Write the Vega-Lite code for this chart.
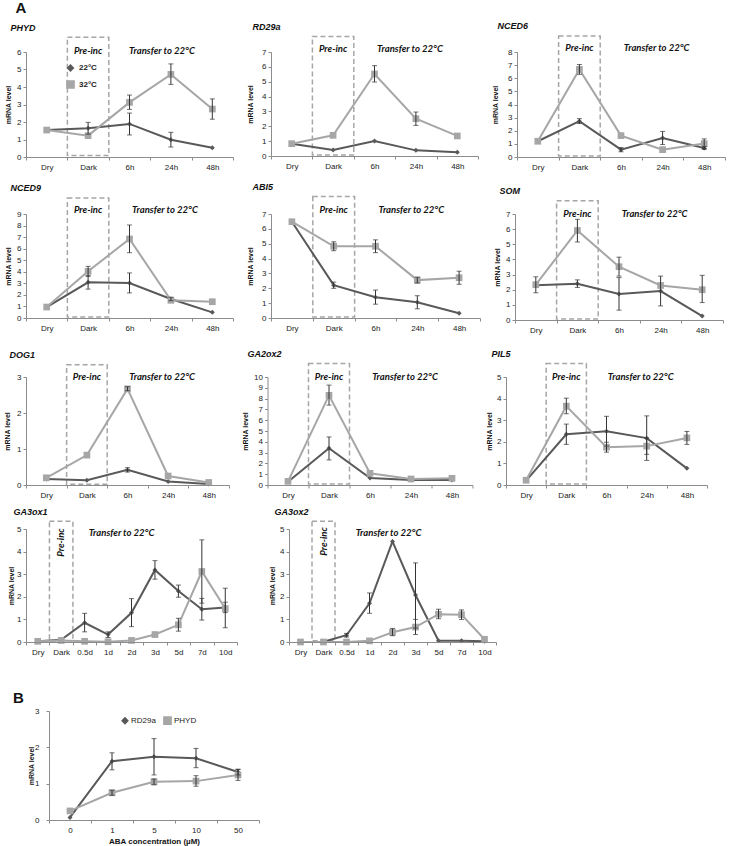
{
  "$schema": "https://vega.github.io/schema/vega-lite/v6.json",
  "padding": {"left": 3, "top": 1, "right": 2, "bottom": 2},
  "background": "white",
  "title": {"text": "A", "fontSize": 15, "fontStyle": "normal", "fontWeight": "bold", "dx": 12, "offset": 6, "font": "Liberation Sans"},
  "resolve": {"scale": {"color": "independent", "shape": "independent", "size": "independent"}},
  "datasets": {
    "ts": [
      {"g":"PHYD","t":"Dry","s":"22°C","v":1.54},
      {"g":"PHYD","t":"Dark","s":"22°C","v":1.64,"lo":1.30,"hi":1.98},
      {"g":"PHYD","t":"6h","s":"22°C","v":1.89,"lo":1.26,"hi":2.51},
      {"g":"PHYD","t":"24h","s":"22°C","v":0.99,"lo":0.57,"hi":1.41},
      {"g":"PHYD","t":"48h","s":"22°C","v":0.53},
      {"g":"PHYD","t":"Dry","s":"32°C","v":1.54},
      {"g":"PHYD","t":"Dark","s":"32°C","v":1.22},
      {"g":"PHYD","t":"6h","s":"32°C","v":3.12,"lo":2.72,"hi":3.54},
      {"g":"PHYD","t":"24h","s":"32°C","v":4.72,"lo":4.15,"hi":5.32},
      {"g":"PHYD","t":"48h","s":"32°C","v":2.74,"lo":2.16,"hi":3.32},
      {"g":"RD29a","t":"Dry","s":"22°C","v":0.83},
      {"g":"RD29a","t":"Dark","s":"22°C","v":0.40},
      {"g":"RD29a","t":"6h","s":"22°C","v":1.01},
      {"g":"RD29a","t":"24h","s":"22°C","v":0.38},
      {"g":"RD29a","t":"48h","s":"22°C","v":0.25},
      {"g":"RD29a","t":"Dry","s":"32°C","v":0.83},
      {"g":"RD29a","t":"Dark","s":"32°C","v":1.39},
      {"g":"RD29a","t":"6h","s":"32°C","v":5.52,"lo":4.98,"hi":6.08},
      {"g":"RD29a","t":"24h","s":"32°C","v":2.51,"lo":2.06,"hi":2.96},
      {"g":"RD29a","t":"48h","s":"32°C","v":1.35},
      {"g":"NCED6","t":"Dry","s":"22°C","v":1.2},
      {"g":"NCED6","t":"Dark","s":"22°C","v":2.73,"lo":2.55,"hi":2.92},
      {"g":"NCED6","t":"6h","s":"22°C","v":0.56,"lo":0.40,"hi":0.72},
      {"g":"NCED6","t":"24h","s":"22°C","v":1.45,"lo":0.95,"hi":1.95},
      {"g":"NCED6","t":"48h","s":"22°C","v":0.69,"lo":0.58,"hi":0.80},
      {"g":"NCED6","t":"Dry","s":"32°C","v":1.2},
      {"g":"NCED6","t":"Dark","s":"32°C","v":6.67,"lo":6.30,"hi":7.05},
      {"g":"NCED6","t":"6h","s":"32°C","v":1.63},
      {"g":"NCED6","t":"24h","s":"32°C","v":0.56},
      {"g":"NCED6","t":"48h","s":"32°C","v":1.02,"lo":0.65,"hi":1.38},
      {"g":"NCED9","t":"Dry","s":"22°C","v":0.95},
      {"g":"NCED9","t":"Dark","s":"22°C","v":3.09,"lo":2.50,"hi":3.67},
      {"g":"NCED9","t":"6h","s":"22°C","v":3.03,"lo":2.17,"hi":3.90},
      {"g":"NCED9","t":"24h","s":"22°C","v":1.64,"lo":1.50,"hi":1.80},
      {"g":"NCED9","t":"48h","s":"22°C","v":0.49},
      {"g":"NCED9","t":"Dry","s":"32°C","v":0.95},
      {"g":"NCED9","t":"Dark","s":"32°C","v":4.04,"lo":3.60,"hi":4.47},
      {"g":"NCED9","t":"6h","s":"32°C","v":6.84,"lo":5.65,"hi":8.05},
      {"g":"NCED9","t":"24h","s":"32°C","v":1.53},
      {"g":"NCED9","t":"48h","s":"32°C","v":1.41},
      {"g":"ABI5","t":"Dry","s":"22°C","v":6.48},
      {"g":"ABI5","t":"Dark","s":"22°C","v":2.21,"lo":2.00,"hi":2.42},
      {"g":"ABI5","t":"6h","s":"22°C","v":1.40,"lo":0.93,"hi":1.88},
      {"g":"ABI5","t":"24h","s":"22°C","v":1.06,"lo":0.62,"hi":1.50},
      {"g":"ABI5","t":"48h","s":"22°C","v":0.32},
      {"g":"ABI5","t":"Dry","s":"32°C","v":6.48},
      {"g":"ABI5","t":"Dark","s":"32°C","v":4.83,"lo":4.53,"hi":5.13},
      {"g":"ABI5","t":"6h","s":"32°C","v":4.83,"lo":4.40,"hi":5.26},
      {"g":"ABI5","t":"24h","s":"32°C","v":2.55,"lo":2.35,"hi":2.75},
      {"g":"ABI5","t":"48h","s":"32°C","v":2.71,"lo":2.27,"hi":3.15},
      {"g":"SOM","t":"Dry","s":"22°C","v":2.30,"lo":1.80,"hi":2.85},
      {"g":"SOM","t":"Dark","s":"22°C","v":2.39,"lo":2.15,"hi":2.65},
      {"g":"SOM","t":"6h","s":"22°C","v":1.72,"lo":0.65,"hi":2.80},
      {"g":"SOM","t":"24h","s":"22°C","v":1.91,"lo":0.93,"hi":2.90},
      {"g":"SOM","t":"48h","s":"22°C","v":0.26},
      {"g":"SOM","t":"Dry","s":"32°C","v":2.33},
      {"g":"SOM","t":"Dark","s":"32°C","v":5.91,"lo":5.15,"hi":6.65},
      {"g":"SOM","t":"6h","s":"32°C","v":3.52,"lo":2.90,"hi":4.15},
      {"g":"SOM","t":"24h","s":"32°C","v":2.28},
      {"g":"SOM","t":"48h","s":"32°C","v":2.00,"lo":1.15,"hi":2.95},
      {"g":"DOG1","t":"Dry","s":"22°C","v":0.17},
      {"g":"DOG1","t":"Dark","s":"22°C","v":0.13},
      {"g":"DOG1","t":"6h","s":"22°C","v":0.42,"lo":0.36,"hi":0.48},
      {"g":"DOG1","t":"24h","s":"22°C","v":0.10},
      {"g":"DOG1","t":"48h","s":"22°C","v":0.03},
      {"g":"DOG1","t":"Dry","s":"32°C","v":0.20},
      {"g":"DOG1","t":"Dark","s":"32°C","v":0.83},
      {"g":"DOG1","t":"6h","s":"32°C","v":2.67,"lo":2.62,"hi":2.73},
      {"g":"DOG1","t":"24h","s":"32°C","v":0.25},
      {"g":"DOG1","t":"48h","s":"32°C","v":0.07},
      {"g":"GA2ox2","t":"Dry","s":"22°C","v":0.31},
      {"g":"GA2ox2","t":"Dark","s":"22°C","v":3.40,"lo":2.32,"hi":4.45},
      {"g":"GA2ox2","t":"6h","s":"22°C","v":0.65},
      {"g":"GA2ox2","t":"24h","s":"22°C","v":0.46},
      {"g":"GA2ox2","t":"48h","s":"22°C","v":0.46},
      {"g":"GA2ox2","t":"Dry","s":"32°C","v":0.34},
      {"g":"GA2ox2","t":"Dark","s":"32°C","v":8.30,"lo":7.40,"hi":9.25},
      {"g":"GA2ox2","t":"6h","s":"32°C","v":1.08},
      {"g":"GA2ox2","t":"24h","s":"32°C","v":0.56},
      {"g":"GA2ox2","t":"48h","s":"32°C","v":0.62},
      {"g":"PIL5","t":"Dry","s":"22°C","v":0.20},
      {"g":"PIL5","t":"Dark","s":"22°C","v":2.35,"lo":1.88,"hi":2.82},
      {"g":"PIL5","t":"6h","s":"22°C","v":2.49,"lo":1.80,"hi":3.18},
      {"g":"PIL5","t":"24h","s":"22°C","v":2.17,"lo":1.14,"hi":3.20},
      {"g":"PIL5","t":"48h","s":"22°C","v":0.77},
      {"g":"PIL5","t":"Dry","s":"32°C","v":0.22},
      {"g":"PIL5","t":"Dark","s":"32°C","v":3.65,"lo":3.30,"hi":4.02},
      {"g":"PIL5","t":"6h","s":"32°C","v":1.75,"lo":1.52,"hi":1.98},
      {"g":"PIL5","t":"24h","s":"32°C","v":1.80,"lo":1.42,"hi":2.18},
      {"g":"PIL5","t":"48h","s":"32°C","v":2.18,"lo":1.88,"hi":2.48},
      {"g":"GA3ox1","t":"Dry","s":"22°C","v":0.03},
      {"g":"GA3ox1","t":"Dark","s":"22°C","v":0.10},
      {"g":"GA3ox1","t":"0.5d","s":"22°C","v":0.85,"lo":0.45,"hi":1.27},
      {"g":"GA3ox1","t":"1d","s":"22°C","v":0.33,"lo":0.20,"hi":0.45},
      {"g":"GA3ox1","t":"2d","s":"22°C","v":1.29,"lo":0.68,"hi":1.92},
      {"g":"GA3ox1","t":"3d","s":"22°C","v":3.19,"lo":2.78,"hi":3.60},
      {"g":"GA3ox1","t":"5d","s":"22°C","v":2.26,"lo":1.98,"hi":2.52},
      {"g":"GA3ox1","t":"7d","s":"22°C","v":1.45,"lo":0.97,"hi":1.93},
      {"g":"GA3ox1","t":"10d","s":"22°C","v":1.53,"lo":1.30,"hi":1.76},
      {"g":"GA3ox1","t":"Dry","s":"32°C","v":0.03},
      {"g":"GA3ox1","t":"Dark","s":"32°C","v":0.07},
      {"g":"GA3ox1","t":"0.5d","s":"32°C","v":0.03},
      {"g":"GA3ox1","t":"1d","s":"32°C","v":0.01},
      {"g":"GA3ox1","t":"2d","s":"32°C","v":0.07},
      {"g":"GA3ox1","t":"3d","s":"32°C","v":0.33},
      {"g":"GA3ox1","t":"5d","s":"32°C","v":0.76,"lo":0.48,"hi":1.05},
      {"g":"GA3ox1","t":"7d","s":"32°C","v":3.12,"lo":1.72,"hi":4.52},
      {"g":"GA3ox1","t":"10d","s":"32°C","v":1.48,"lo":0.63,"hi":2.38},
      {"g":"GA3ox2","t":"Dark","s":"22°C","v":0.01},
      {"g":"GA3ox2","t":"0.5d","s":"22°C","v":0.30,"lo":0.22,"hi":0.38},
      {"g":"GA3ox2","t":"1d","s":"22°C","v":1.71,"lo":1.27,"hi":2.17},
      {"g":"GA3ox2","t":"2d","s":"22°C","v":4.45},
      {"g":"GA3ox2","t":"3d","s":"22°C","v":2.08,"lo":0.62,"hi":3.50},
      {"g":"GA3ox2","t":"5d","s":"22°C","v":0.06},
      {"g":"GA3ox2","t":"7d","s":"22°C","v":0.06},
      {"g":"GA3ox2","t":"10d","s":"22°C","v":0.03},
      {"g":"GA3ox2","t":"Dry","s":"32°C","v":0.0},
      {"g":"GA3ox2","t":"Dark","s":"32°C","v":0.0},
      {"g":"GA3ox2","t":"0.5d","s":"32°C","v":0.0},
      {"g":"GA3ox2","t":"1d","s":"32°C","v":0.05},
      {"g":"GA3ox2","t":"2d","s":"32°C","v":0.43,"lo":0.28,"hi":0.60},
      {"g":"GA3ox2","t":"3d","s":"32°C","v":0.66,"lo":0.33,"hi":1.00},
      {"g":"GA3ox2","t":"5d","s":"32°C","v":1.23,"lo":1.03,"hi":1.45},
      {"g":"GA3ox2","t":"7d","s":"32°C","v":1.21,"lo":1.00,"hi":1.42},
      {"g":"GA3ox2","t":"10d","s":"32°C","v":0.12}
    ],
    "boxes": [
      {"g":"PHYD","t":"Dark","lo":0.08,"hi":6.84},
      {"g":"RD29a","t":"Dark","lo":0.06,"hi":8.05},
      {"g":"NCED6","t":"Dark","lo":0.08,"hi":9.22},
      {"g":"NCED9","t":"Dark","lo":0.08,"hi":10.38},
      {"g":"ABI5","t":"Dark","lo":0.06,"hi":8.17},
      {"g":"SOM","t":"Dark","lo":0.06,"hi":7.87},
      {"g":"DOG1","t":"Dark","lo":0.02,"hi":3.34},
      {"g":"GA2ox2","t":"Dark","lo":0.1,"hi":11.24},
      {"g":"PIL5","t":"Dark","lo":0.05,"hi":5.62},
      {"g":"GA3ox1","t":"Dark","lo":0.05,"hi":5.34},
      {"g":"GA3ox2","t":"Dark","lo":0.05,"hi":5.34}
    ],
    "notes": [
      {"g":"PHYD","label":"Pre-inc","t":"Dark","v":6.04},
      {"g":"PHYD","label":"Transfer to 22°C","t":"24h","v":6.04},
      {"g":"RD29a","label":"Pre-inc","t":"Dark","v":7.2},
      {"g":"RD29a","label":"Transfer to 22°C","t":"24h","v":7.2},
      {"g":"NCED6","label":"Pre-inc","t":"Dark","v":8.3},
      {"g":"NCED6","label":"Transfer to 22°C","t":"24h","v":8.3},
      {"g":"NCED9","label":"Pre-inc","t":"Dark","v":9.35},
      {"g":"NCED9","label":"Transfer to 22°C","t":"24h","v":9.35},
      {"g":"ABI5","label":"Pre-inc","t":"Dark","v":7.25},
      {"g":"ABI5","label":"Transfer to 22°C","t":"24h","v":7.25},
      {"g":"SOM","label":"Pre-inc","t":"Dark","v":7.0},
      {"g":"SOM","label":"Transfer to 22°C","t":"24h","v":7.0},
      {"g":"DOG1","label":"Pre-inc","t":"Dark","v":3.0},
      {"g":"DOG1","label":"Transfer to 22°C","t":"24h","v":3.0},
      {"g":"GA2ox2","label":"Pre-inc","t":"Dark","v":10.0},
      {"g":"GA2ox2","label":"Transfer to 22°C","t":"24h","v":10.0},
      {"g":"PIL5","label":"Pre-inc","t":"Dark","v":5.0},
      {"g":"PIL5","label":"Transfer to 22°C","t":"24h","v":5.0},
      {"g":"GA3ox1","label":"Pre-inc","t":"Dark","v":4.4},
      {"g":"GA3ox1","label":"Transfer to 22°C","t":"2d","v":4.82},
      {"g":"GA3ox2","label":"Pre-inc","t":"Dark","v":4.45},
      {"g":"GA3ox2","label":"Transfer to 22°C","t":"2d","v":4.82}
    ],
    "aba": [
      {"c":"0","s":"RD29a","v":0.07},
      {"c":"1","s":"RD29a","v":1.62,"lo":1.38,"hi":1.85},
      {"c":"5","s":"RD29a","v":1.74,"lo":1.24,"hi":2.24},
      {"c":"10","s":"RD29a","v":1.70,"lo":1.44,"hi":1.97},
      {"c":"50","s":"RD29a","v":1.32,"lo":1.24,"hi":1.40},
      {"c":"0","s":"PHYD","v":0.25},
      {"c":"1","s":"PHYD","v":0.75,"lo":0.68,"hi":0.82},
      {"c":"5","s":"PHYD","v":1.05,"lo":0.97,"hi":1.13},
      {"c":"10","s":"PHYD","v":1.07,"lo":0.93,"hi":1.22},
      {"c":"50","s":"PHYD","v":1.24,"lo":1.09,"hi":1.39}
    ]
  },
  "config": {
    "view": {"stroke": null},
    "axis": {"labelFont": "Liberation Sans", "labelFontSize": 8, "labelColor": "#222", "domainColor": "#8c8c8c", "tickColor": "#8c8c8c", "tickSize": 3, "grid": false, "titleFont": "Liberation Sans", "titleFontSize": 7, "titleFontWeight": "bold", "titleColor": "#111"},
    "axisX": {"labelAngle": 0, "tickBand": "extent", "labelPadding": 3},
    "axisY": {"labelPadding": 2},
    "title": {"anchor": "start", "frame": "bounds", "font": "Liberation Sans", "fontSize": 9, "fontStyle": "italic", "fontWeight": "bold", "color": "#111", "offset": 0, "dx": 6}
  },
  "columns": 1,
  "align": "none",
  "spacing": 15,
  "concat": [
    {
      "columns": 1, "align": "none", "spacing": 11,
      "resolve": {"scale": {"color": "independent", "shape": "independent", "size": "independent"}},
      "concat": [
        {
          "spacing": 12,
          "resolve": {"scale": {"color": "independent", "shape": "independent", "size": "independent"}},
          "hconcat": [
            {
              "width": 207, "height": 105,
              "title": {"text": "PHYD"},
              "encoding": {
                "x": {"field": "t", "type": "ordinal", "title": null, "scale": {"type": "band", "domain": ["Dry","Dark","6h","24h","48h"], "paddingInner": 0, "paddingOuter": 0}},
                "y": {"field": "v", "type": "quantitative", "title": "mRNA level", "scale": {"domain": [0, 6], "nice": false}, "axis": {"values": [0,1,2,3,4,5,6], "titlePadding": 5}}
              },
              "layer": [
                {"data": {"name": "boxes"}, "transform": [{"filter": "datum.g == 'PHYD'"}], "mark": {"type": "rect", "fillOpacity": 0, "stroke": "#a6a6a6", "strokeWidth": 1.5, "strokeDash": [5, 3]}, "encoding": {"y": {"field": "lo", "type": "quantitative", "title": "mRNA level"}, "y2": {"field": "hi"}}},
                {"data": {"name": "notes"}, "transform": [{"filter": "datum.g == 'PHYD' && datum.label == 'Pre-inc'"}], "mark": {"type": "text", "font": "Lato", "fontStyle": "italic", "fontWeight": "bold", "fontSize": 9.5, "color": "#111"}, "encoding": {"text": {"field": "label"}}},
                {"data": {"name": "notes"}, "transform": [{"filter": "datum.g == 'PHYD' && datum.label != 'Pre-inc'"}], "mark": {"type": "text", "font": "Lato", "fontStyle": "italic", "fontWeight": "bold", "fontSize": 9.5, "color": "#111", "dx": -9}, "encoding": {"text": {"field": "label"}}},
                {"data": {"name": "ts"}, "transform": [{"filter": "datum.g == 'PHYD'"}], "mark": {"type": "line", "strokeWidth": 2}, "encoding": {"order": {"value": null}, "color": {"field": "s", "type": "nominal", "scale": {"domain": ["22°C","32°C"], "range": ["#595959","#a6a6a6"]}, "legend": {"orient": "none", "legendX": 40, "legendY": 12, "title": null, "labelFont": "Liberation Sans", "labelFontSize": 8, "labelFontWeight": "bold", "labelColor": "#222", "symbolSize": 180, "symbolStrokeWidth": 2, "rowPadding": 2, "encode": {"symbols": {"update": {"shape": {"signal": "datum.value == '22°C' ? 'M-1,0L1,0M0,-0.3L0.3,0L0,0.3L-0.3,0Z' : 'M-1,0L1,0M-0.35,-0.35L0.35,-0.35L0.35,0.35L-0.35,0.35Z'"}, "fill": {"signal": "datum.value == '22°C' ? '#595959' : '#a6a6a6'"}, "stroke": {"signal": "datum.value == '22°C' ? '#595959' : '#a6a6a6'"}, "strokeWidth": {"value": 2}, "strokeOpacity": {"value": 1}, "opacity": {"value": 1}}}}}}}},
                {"data": {"name": "ts"}, "transform": [{"filter": "datum.g == 'PHYD'"}], "mark": {"type": "point", "filled": true, "opacity": 1}, "encoding": {"color": {"field": "s", "type": "nominal", "legend": null}, "shape": {"field": "s", "type": "nominal", "scale": {"domain": ["22°C","32°C"], "range": ["diamond","square"]}, "legend": null}, "size": {"field": "s", "type": "ordinal", "scale": {"domain": ["22°C","32°C"], "range": [25, 45]}, "legend": null}}},
                {"data": {"name": "ts"}, "transform": [{"filter": "datum.g == 'PHYD' && isValid(datum.lo)"}], "mark": {"type": "errorbar", "ticks": {"size": 5, "thickness": 1, "color": "#333"}, "rule": {"color": "#333", "strokeWidth": 1}}, "encoding": {"y": {"field": "lo", "type": "quantitative", "title": "mRNA level"}, "y2": {"field": "hi"}}}
              ]
            },
            {
              "width": 207, "height": 104,
              "title": {"text": "RD29a"},
              "encoding": {
                "x": {"field": "t", "type": "ordinal", "title": null, "scale": {"type": "band", "domain": ["Dry","Dark","6h","24h","48h"], "paddingInner": 0, "paddingOuter": 0}},
                "y": {"field": "v", "type": "quantitative", "title": "mRNA level", "scale": {"domain": [0, 7], "nice": false}, "axis": {"values": [0,1,2,3,4,5,6,7], "titlePadding": 8}}
              },
              "layer": [
                {"data": {"name": "boxes"}, "transform": [{"filter": "datum.g == 'RD29a'"}], "mark": {"type": "rect", "fillOpacity": 0, "stroke": "#a6a6a6", "strokeWidth": 1.5, "strokeDash": [5, 3]}, "encoding": {"y": {"field": "lo", "type": "quantitative", "title": "mRNA level"}, "y2": {"field": "hi"}}},
                {"data": {"name": "notes"}, "transform": [{"filter": "datum.g == 'RD29a' && datum.label == 'Pre-inc'"}], "mark": {"type": "text", "font": "Lato", "fontStyle": "italic", "fontWeight": "bold", "fontSize": 9.5, "color": "#111"}, "encoding": {"text": {"field": "label"}}},
                {"data": {"name": "notes"}, "transform": [{"filter": "datum.g == 'RD29a' && datum.label != 'Pre-inc'"}], "mark": {"type": "text", "font": "Lato", "fontStyle": "italic", "fontWeight": "bold", "fontSize": 9.5, "color": "#111", "dx": -6}, "encoding": {"text": {"field": "label"}}},
                {"data": {"name": "ts"}, "transform": [{"filter": "datum.g == 'RD29a'"}], "mark": {"type": "line", "strokeWidth": 2}, "encoding": {"order": {"value": null}, "color": {"field": "s", "type": "nominal", "scale": {"domain": ["22°C","32°C"], "range": ["#595959","#a6a6a6"]}, "legend": null}}},
                {"data": {"name": "ts"}, "transform": [{"filter": "datum.g == 'RD29a'"}], "mark": {"type": "point", "filled": true, "opacity": 1}, "encoding": {"color": {"field": "s", "type": "nominal", "legend": null}, "shape": {"field": "s", "type": "nominal", "scale": {"domain": ["22°C","32°C"], "range": ["diamond","square"]}, "legend": null}, "size": {"field": "s", "type": "ordinal", "scale": {"domain": ["22°C","32°C"], "range": [25, 45]}, "legend": null}}},
                {"data": {"name": "ts"}, "transform": [{"filter": "datum.g == 'RD29a' && isValid(datum.lo)"}], "mark": {"type": "errorbar", "ticks": {"size": 5, "thickness": 1, "color": "#333"}, "rule": {"color": "#333", "strokeWidth": 1}}, "encoding": {"y": {"field": "lo", "type": "quantitative", "title": "mRNA level"}, "y2": {"field": "hi"}}}
              ]
            },
            {
              "width": 208, "height": 105,
              "title": {"text": "NCED6"},
              "encoding": {
                "x": {"field": "t", "type": "ordinal", "title": null, "scale": {"type": "band", "domain": ["Dry","Dark","6h","24h","48h"], "paddingInner": 0, "paddingOuter": 0}},
                "y": {"field": "v", "type": "quantitative", "title": "mRNA level", "scale": {"domain": [0, 8], "nice": false}, "axis": {"values": [0,1,2,3,4,5,6,7,8], "titlePadding": 9}}
              },
              "layer": [
                {"data": {"name": "boxes"}, "transform": [{"filter": "datum.g == 'NCED6'"}], "mark": {"type": "rect", "fillOpacity": 0, "stroke": "#a6a6a6", "strokeWidth": 1.5, "strokeDash": [5, 3]}, "encoding": {"y": {"field": "lo", "type": "quantitative", "title": "mRNA level"}, "y2": {"field": "hi"}}},
                {"data": {"name": "notes"}, "transform": [{"filter": "datum.g == 'NCED6' && datum.label == 'Pre-inc'"}], "mark": {"type": "text", "font": "Lato", "fontStyle": "italic", "fontWeight": "bold", "fontSize": 9.5, "color": "#111"}, "encoding": {"text": {"field": "label"}}},
                {"data": {"name": "notes"}, "transform": [{"filter": "datum.g == 'NCED6' && datum.label != 'Pre-inc'"}], "mark": {"type": "text", "font": "Lato", "fontStyle": "italic", "fontWeight": "bold", "fontSize": 9.5, "color": "#111", "dx": -6}, "encoding": {"text": {"field": "label"}}},
                {"data": {"name": "ts"}, "transform": [{"filter": "datum.g == 'NCED6'"}], "mark": {"type": "line", "strokeWidth": 2}, "encoding": {"order": {"value": null}, "color": {"field": "s", "type": "nominal", "scale": {"domain": ["22°C","32°C"], "range": ["#595959","#a6a6a6"]}, "legend": null}}},
                {"data": {"name": "ts"}, "transform": [{"filter": "datum.g == 'NCED6'"}], "mark": {"type": "point", "filled": true, "opacity": 1}, "encoding": {"color": {"field": "s", "type": "nominal", "legend": null}, "shape": {"field": "s", "type": "nominal", "scale": {"domain": ["22°C","32°C"], "range": ["diamond","square"]}, "legend": null}, "size": {"field": "s", "type": "ordinal", "scale": {"domain": ["22°C","32°C"], "range": [25, 45]}, "legend": null}}},
                {"data": {"name": "ts"}, "transform": [{"filter": "datum.g == 'NCED6' && isValid(datum.lo)"}], "mark": {"type": "errorbar", "ticks": {"size": 5, "thickness": 1, "color": "#333"}, "rule": {"color": "#333", "strokeWidth": 1}}, "encoding": {"y": {"field": "lo", "type": "quantitative", "title": "mRNA level"}, "y2": {"field": "hi"}}}
              ]
            }
          ]
        },
        {
          "spacing": 12,
          "resolve": {"scale": {"color": "independent", "shape": "independent", "size": "independent"}},
          "hconcat": [
            {
              "width": 207, "height": 104,
              "title": {"text": "NCED9"},
              "encoding": {
                "x": {"field": "t", "type": "ordinal", "title": null, "scale": {"type": "band", "domain": ["Dry","Dark","6h","24h","48h"], "paddingInner": 0, "paddingOuter": 0}},
                "y": {"field": "v", "type": "quantitative", "title": "mRNA level", "scale": {"domain": [0, 9], "nice": false}, "axis": {"values": [0,1,2,3,4,5,6,7,8,9], "titlePadding": 5}}
              },
              "layer": [
                {"data": {"name": "boxes"}, "transform": [{"filter": "datum.g == 'NCED9'"}], "mark": {"type": "rect", "fillOpacity": 0, "stroke": "#a6a6a6", "strokeWidth": 1.5, "strokeDash": [5, 3]}, "encoding": {"y": {"field": "lo", "type": "quantitative", "title": "mRNA level"}, "y2": {"field": "hi"}}},
                {"data": {"name": "notes"}, "transform": [{"filter": "datum.g == 'NCED9' && datum.label == 'Pre-inc'"}], "mark": {"type": "text", "font": "Lato", "fontStyle": "italic", "fontWeight": "bold", "fontSize": 9.5, "color": "#111"}, "encoding": {"text": {"field": "label"}}},
                {"data": {"name": "notes"}, "transform": [{"filter": "datum.g == 'NCED9' && datum.label != 'Pre-inc'"}], "mark": {"type": "text", "font": "Lato", "fontStyle": "italic", "fontWeight": "bold", "fontSize": 9.5, "color": "#111", "dx": -6}, "encoding": {"text": {"field": "label"}}},
                {"data": {"name": "ts"}, "transform": [{"filter": "datum.g == 'NCED9'"}], "mark": {"type": "line", "strokeWidth": 2}, "encoding": {"order": {"value": null}, "color": {"field": "s", "type": "nominal", "scale": {"domain": ["22°C","32°C"], "range": ["#595959","#a6a6a6"]}, "legend": null}}},
                {"data": {"name": "ts"}, "transform": [{"filter": "datum.g == 'NCED9'"}], "mark": {"type": "point", "filled": true, "opacity": 1}, "encoding": {"color": {"field": "s", "type": "nominal", "legend": null}, "shape": {"field": "s", "type": "nominal", "scale": {"domain": ["22°C","32°C"], "range": ["diamond","square"]}, "legend": null}, "size": {"field": "s", "type": "ordinal", "scale": {"domain": ["22°C","32°C"], "range": [25, 45]}, "legend": null}}},
                {"data": {"name": "ts"}, "transform": [{"filter": "datum.g == 'NCED9' && isValid(datum.lo)"}], "mark": {"type": "errorbar", "ticks": {"size": 5, "thickness": 1, "color": "#333"}, "rule": {"color": "#333", "strokeWidth": 1}}, "encoding": {"y": {"field": "lo", "type": "quantitative", "title": "mRNA level"}, "y2": {"field": "hi"}}}
              ]
            },
            {
              "width": 209, "height": 104,
              "title": {"text": "ABI5"},
              "encoding": {
                "x": {"field": "t", "type": "ordinal", "title": null, "scale": {"type": "band", "domain": ["Dry","Dark","6h","24h","48h"], "paddingInner": 0, "paddingOuter": 0}},
                "y": {"field": "v", "type": "quantitative", "title": "mRNA level", "scale": {"domain": [0, 7], "nice": false}, "axis": {"values": [0,1,2,3,4,5,6,7], "titlePadding": 8}}
              },
              "layer": [
                {"data": {"name": "boxes"}, "transform": [{"filter": "datum.g == 'ABI5'"}], "mark": {"type": "rect", "fillOpacity": 0, "stroke": "#a6a6a6", "strokeWidth": 1.5, "strokeDash": [5, 3]}, "encoding": {"y": {"field": "lo", "type": "quantitative", "title": "mRNA level"}, "y2": {"field": "hi"}}},
                {"data": {"name": "notes"}, "transform": [{"filter": "datum.g == 'ABI5' && datum.label == 'Pre-inc'"}], "mark": {"type": "text", "font": "Lato", "fontStyle": "italic", "fontWeight": "bold", "fontSize": 9.5, "color": "#111"}, "encoding": {"text": {"field": "label"}}},
                {"data": {"name": "notes"}, "transform": [{"filter": "datum.g == 'ABI5' && datum.label != 'Pre-inc'"}], "mark": {"type": "text", "font": "Lato", "fontStyle": "italic", "fontWeight": "bold", "fontSize": 9.5, "color": "#111", "dx": -6}, "encoding": {"text": {"field": "label"}}},
                {"data": {"name": "ts"}, "transform": [{"filter": "datum.g == 'ABI5'"}], "mark": {"type": "line", "strokeWidth": 2}, "encoding": {"order": {"value": null}, "color": {"field": "s", "type": "nominal", "scale": {"domain": ["22°C","32°C"], "range": ["#595959","#a6a6a6"]}, "legend": null}}},
                {"data": {"name": "ts"}, "transform": [{"filter": "datum.g == 'ABI5'"}], "mark": {"type": "point", "filled": true, "opacity": 1}, "encoding": {"color": {"field": "s", "type": "nominal", "legend": null}, "shape": {"field": "s", "type": "nominal", "scale": {"domain": ["22°C","32°C"], "range": ["diamond","square"]}, "legend": null}, "size": {"field": "s", "type": "ordinal", "scale": {"domain": ["22°C","32°C"], "range": [25, 45]}, "legend": null}}},
                {"data": {"name": "ts"}, "transform": [{"filter": "datum.g == 'ABI5' && isValid(datum.lo)"}], "mark": {"type": "errorbar", "ticks": {"size": 5, "thickness": 1, "color": "#333"}, "rule": {"color": "#333", "strokeWidth": 1}}, "encoding": {"y": {"field": "lo", "type": "quantitative", "title": "mRNA level"}, "y2": {"field": "hi"}}}
              ]
            },
            {
              "width": 208, "height": 106,
              "title": {"text": "SOM"},
              "encoding": {
                "x": {"field": "t", "type": "ordinal", "title": null, "scale": {"type": "band", "domain": ["Dry","Dark","6h","24h","48h"], "paddingInner": 0, "paddingOuter": 0}},
                "y": {"field": "v", "type": "quantitative", "title": "mRNA level", "scale": {"domain": [0, 7], "nice": false}, "axis": {"values": [0,1,2,3,4,5,6,7], "titlePadding": 5}}
              },
              "layer": [
                {"data": {"name": "boxes"}, "transform": [{"filter": "datum.g == 'SOM'"}], "mark": {"type": "rect", "fillOpacity": 0, "stroke": "#a6a6a6", "strokeWidth": 1.5, "strokeDash": [5, 3]}, "encoding": {"y": {"field": "lo", "type": "quantitative", "title": "mRNA level"}, "y2": {"field": "hi"}}},
                {"data": {"name": "notes"}, "transform": [{"filter": "datum.g == 'SOM' && datum.label == 'Pre-inc'"}], "mark": {"type": "text", "font": "Lato", "fontStyle": "italic", "fontWeight": "bold", "fontSize": 9.5, "color": "#111"}, "encoding": {"text": {"field": "label"}}},
                {"data": {"name": "notes"}, "transform": [{"filter": "datum.g == 'SOM' && datum.label != 'Pre-inc'"}], "mark": {"type": "text", "font": "Lato", "fontStyle": "italic", "fontWeight": "bold", "fontSize": 9.5, "color": "#111", "dx": -6}, "encoding": {"text": {"field": "label"}}},
                {"data": {"name": "ts"}, "transform": [{"filter": "datum.g == 'SOM'"}], "mark": {"type": "line", "strokeWidth": 2}, "encoding": {"order": {"value": null}, "color": {"field": "s", "type": "nominal", "scale": {"domain": ["22°C","32°C"], "range": ["#595959","#a6a6a6"]}, "legend": null}}},
                {"data": {"name": "ts"}, "transform": [{"filter": "datum.g == 'SOM'"}], "mark": {"type": "point", "filled": true, "opacity": 1}, "encoding": {"color": {"field": "s", "type": "nominal", "legend": null}, "shape": {"field": "s", "type": "nominal", "scale": {"domain": ["22°C","32°C"], "range": ["diamond","square"]}, "legend": null}, "size": {"field": "s", "type": "ordinal", "scale": {"domain": ["22°C","32°C"], "range": [25, 45]}, "legend": null}}},
                {"data": {"name": "ts"}, "transform": [{"filter": "datum.g == 'SOM' && isValid(datum.lo)"}], "mark": {"type": "errorbar", "ticks": {"size": 5, "thickness": 1, "color": "#333"}, "rule": {"color": "#333", "strokeWidth": 1}}, "encoding": {"y": {"field": "lo", "type": "quantitative", "title": "mRNA level"}, "y2": {"field": "hi"}}}
              ]
            }
          ]
        }
      ]
    },
    {
      "columns": 1, "align": "none", "spacing": 8,
      "resolve": {"scale": {"color": "independent", "shape": "independent", "size": "independent"}},
      "concat": [
        {
          "spacing": 11.5,
          "resolve": {"scale": {"color": "independent", "shape": "independent", "size": "independent"}},
          "hconcat": [
            {
              "width": 203, "height": 108,
              "title": {"text": "DOG1"},
              "encoding": {
                "x": {"field": "t", "type": "ordinal", "title": null, "scale": {"type": "band", "domain": ["Dry","Dark","6h","24h","48h"], "paddingInner": 0, "paddingOuter": 0}},
                "y": {"field": "v", "type": "quantitative", "title": "mRNA level", "scale": {"domain": [0, 3], "nice": false}, "axis": {"values": [0,1,2,3], "titlePadding": 6}}
              },
              "layer": [
                {"data": {"name": "boxes"}, "transform": [{"filter": "datum.g == 'DOG1'"}], "mark": {"type": "rect", "fillOpacity": 0, "stroke": "#a6a6a6", "strokeWidth": 1.5, "strokeDash": [5, 3]}, "encoding": {"y": {"field": "lo", "type": "quantitative", "title": "mRNA level"}, "y2": {"field": "hi"}}},
                {"data": {"name": "notes"}, "transform": [{"filter": "datum.g == 'DOG1' && datum.label == 'Pre-inc'"}], "mark": {"type": "text", "font": "Lato", "fontStyle": "italic", "fontWeight": "bold", "fontSize": 9.5, "color": "#111"}, "encoding": {"text": {"field": "label"}}},
                {"data": {"name": "notes"}, "transform": [{"filter": "datum.g == 'DOG1' && datum.label != 'Pre-inc'"}], "mark": {"type": "text", "font": "Lato", "fontStyle": "italic", "fontWeight": "bold", "fontSize": 9.5, "color": "#111", "dx": -6}, "encoding": {"text": {"field": "label"}}},
                {"data": {"name": "ts"}, "transform": [{"filter": "datum.g == 'DOG1'"}], "mark": {"type": "line", "strokeWidth": 2}, "encoding": {"order": {"value": null}, "color": {"field": "s", "type": "nominal", "scale": {"domain": ["22°C","32°C"], "range": ["#595959","#a6a6a6"]}, "legend": null}}},
                {"data": {"name": "ts"}, "transform": [{"filter": "datum.g == 'DOG1'"}], "mark": {"type": "point", "filled": true, "opacity": 1}, "encoding": {"color": {"field": "s", "type": "nominal", "legend": null}, "shape": {"field": "s", "type": "nominal", "scale": {"domain": ["22°C","32°C"], "range": ["diamond","square"]}, "legend": null}, "size": {"field": "s", "type": "ordinal", "scale": {"domain": ["22°C","32°C"], "range": [25, 45]}, "legend": null}}},
                {"data": {"name": "ts"}, "transform": [{"filter": "datum.g == 'DOG1' && isValid(datum.lo)"}], "mark": {"type": "errorbar", "ticks": {"size": 5, "thickness": 1, "color": "#333"}, "rule": {"color": "#333", "strokeWidth": 1}}, "encoding": {"y": {"field": "lo", "type": "quantitative", "title": "mRNA level"}, "y2": {"field": "hi"}}}
              ]
            },
            {
              "width": 205, "height": 108,
              "title": {"text": "GA2ox2"},
              "encoding": {
                "x": {"field": "t", "type": "ordinal", "title": null, "scale": {"type": "band", "domain": ["Dry","Dark","6h","24h","48h"], "paddingInner": 0, "paddingOuter": 0}},
                "y": {"field": "v", "type": "quantitative", "title": "mRNA level", "scale": {"domain": [0, 10], "nice": false}, "axis": {"values": [0,1,2,3,4,5,6,7,8,9,10], "titlePadding": 5}}
              },
              "layer": [
                {"data": {"name": "boxes"}, "transform": [{"filter": "datum.g == 'GA2ox2'"}], "mark": {"type": "rect", "fillOpacity": 0, "stroke": "#a6a6a6", "strokeWidth": 1.5, "strokeDash": [5, 3]}, "encoding": {"y": {"field": "lo", "type": "quantitative", "title": "mRNA level"}, "y2": {"field": "hi"}}},
                {"data": {"name": "notes"}, "transform": [{"filter": "datum.g == 'GA2ox2' && datum.label == 'Pre-inc'"}], "mark": {"type": "text", "font": "Lato", "fontStyle": "italic", "fontWeight": "bold", "fontSize": 9.5, "color": "#111"}, "encoding": {"text": {"field": "label"}}},
                {"data": {"name": "notes"}, "transform": [{"filter": "datum.g == 'GA2ox2' && datum.label != 'Pre-inc'"}], "mark": {"type": "text", "font": "Lato", "fontStyle": "italic", "fontWeight": "bold", "fontSize": 9.5, "color": "#111", "dx": -6}, "encoding": {"text": {"field": "label"}}},
                {"data": {"name": "ts"}, "transform": [{"filter": "datum.g == 'GA2ox2'"}], "mark": {"type": "line", "strokeWidth": 2}, "encoding": {"order": {"value": null}, "color": {"field": "s", "type": "nominal", "scale": {"domain": ["22°C","32°C"], "range": ["#595959","#a6a6a6"]}, "legend": null}}},
                {"data": {"name": "ts"}, "transform": [{"filter": "datum.g == 'GA2ox2'"}], "mark": {"type": "point", "filled": true, "opacity": 1}, "encoding": {"color": {"field": "s", "type": "nominal", "legend": null}, "shape": {"field": "s", "type": "nominal", "scale": {"domain": ["22°C","32°C"], "range": ["diamond","square"]}, "legend": null}, "size": {"field": "s", "type": "ordinal", "scale": {"domain": ["22°C","32°C"], "range": [25, 45]}, "legend": null}}},
                {"data": {"name": "ts"}, "transform": [{"filter": "datum.g == 'GA2ox2' && isValid(datum.lo)"}], "mark": {"type": "errorbar", "ticks": {"size": 5, "thickness": 1, "color": "#333"}, "rule": {"color": "#333", "strokeWidth": 1}}, "encoding": {"y": {"field": "lo", "type": "quantitative", "title": "mRNA level"}, "y2": {"field": "hi"}}}
              ]
            },
            {
              "width": 201, "height": 108,
              "title": {"text": "PIL5"},
              "encoding": {
                "x": {"field": "t", "type": "ordinal", "title": null, "scale": {"type": "band", "domain": ["Dry","Dark","6h","24h","48h"], "paddingInner": 0, "paddingOuter": 0}},
                "y": {"field": "v", "type": "quantitative", "title": "mRNA level", "scale": {"domain": [0, 5], "nice": false}, "axis": {"values": [0,1,2,3,4,5], "titlePadding": 4}}
              },
              "layer": [
                {"data": {"name": "boxes"}, "transform": [{"filter": "datum.g == 'PIL5'"}], "mark": {"type": "rect", "fillOpacity": 0, "stroke": "#a6a6a6", "strokeWidth": 1.5, "strokeDash": [5, 3]}, "encoding": {"y": {"field": "lo", "type": "quantitative", "title": "mRNA level"}, "y2": {"field": "hi"}}},
                {"data": {"name": "notes"}, "transform": [{"filter": "datum.g == 'PIL5' && datum.label == 'Pre-inc'"}], "mark": {"type": "text", "font": "Lato", "fontStyle": "italic", "fontWeight": "bold", "fontSize": 9.5, "color": "#111"}, "encoding": {"text": {"field": "label"}}},
                {"data": {"name": "notes"}, "transform": [{"filter": "datum.g == 'PIL5' && datum.label != 'Pre-inc'"}], "mark": {"type": "text", "font": "Lato", "fontStyle": "italic", "fontWeight": "bold", "fontSize": 9.5, "color": "#111", "dx": -6}, "encoding": {"text": {"field": "label"}}},
                {"data": {"name": "ts"}, "transform": [{"filter": "datum.g == 'PIL5'"}], "mark": {"type": "line", "strokeWidth": 2}, "encoding": {"order": {"value": null}, "color": {"field": "s", "type": "nominal", "scale": {"domain": ["22°C","32°C"], "range": ["#595959","#a6a6a6"]}, "legend": null}}},
                {"data": {"name": "ts"}, "transform": [{"filter": "datum.g == 'PIL5'"}], "mark": {"type": "point", "filled": true, "opacity": 1}, "encoding": {"color": {"field": "s", "type": "nominal", "legend": null}, "shape": {"field": "s", "type": "nominal", "scale": {"domain": ["22°C","32°C"], "range": ["diamond","square"]}, "legend": null}, "size": {"field": "s", "type": "ordinal", "scale": {"domain": ["22°C","32°C"], "range": [25, 45]}, "legend": null}}},
                {"data": {"name": "ts"}, "transform": [{"filter": "datum.g == 'PIL5' && isValid(datum.lo)"}], "mark": {"type": "errorbar", "ticks": {"size": 5, "thickness": 1, "color": "#333"}, "rule": {"color": "#333", "strokeWidth": 1}}, "encoding": {"y": {"field": "lo", "type": "quantitative", "title": "mRNA level"}, "y2": {"field": "hi"}}}
              ]
            }
          ]
        },
        {
          "columns": 1, "align": "none", "spacing": 35,
          "resolve": {"scale": {"color": "independent", "shape": "independent", "size": "independent"}},
          "concat": [
            {
              "spacing": 30,
              "resolve": {"scale": {"color": "independent", "shape": "independent", "size": "independent"}},
              "hconcat": [
                {
                  "width": 211, "height": 113,
                  "title": {"text": "GA3ox1"},
                  "encoding": {
                    "x": {"field": "t", "type": "ordinal", "title": null, "scale": {"type": "band", "domain": ["Dry","Dark","0.5d","1d","2d","3d","5d","7d","10d"], "paddingInner": 0, "paddingOuter": 0}},
                    "y": {"field": "v", "type": "quantitative", "title": "mRNA level", "scale": {"domain": [0, 5], "nice": false}, "axis": {"values": [0,1,2,3,4,5], "titlePadding": 2}}
                  },
                  "layer": [
                    {"data": {"name": "boxes"}, "transform": [{"filter": "datum.g == 'GA3ox1'"}], "mark": {"type": "rect", "fillOpacity": 0, "stroke": "#a6a6a6", "strokeWidth": 1.5, "strokeDash": [5, 3]}, "encoding": {"y": {"field": "lo", "type": "quantitative", "title": "mRNA level"}, "y2": {"field": "hi"}}},
                    {"data": {"name": "notes"}, "transform": [{"filter": "datum.g == 'GA3ox1' && datum.label == 'Pre-inc'"}], "mark": {"type": "text", "font": "Lato", "fontStyle": "italic", "fontWeight": "bold", "fontSize": 9.5, "color": "#111", "angle": 270}, "encoding": {"text": {"field": "label"}}},
                    {"data": {"name": "notes"}, "transform": [{"filter": "datum.g == 'GA3ox1' && datum.label != 'Pre-inc'"}], "mark": {"type": "text", "font": "Lato", "fontStyle": "italic", "fontWeight": "bold", "fontSize": 9.5, "color": "#111", "dx": -10}, "encoding": {"text": {"field": "label"}}},
                    {"data": {"name": "ts"}, "transform": [{"filter": "datum.g == 'GA3ox1'"}], "mark": {"type": "line", "strokeWidth": 2}, "encoding": {"order": {"value": null}, "color": {"field": "s", "type": "nominal", "scale": {"domain": ["22°C","32°C"], "range": ["#595959","#a6a6a6"]}, "legend": null}}},
                    {"data": {"name": "ts"}, "transform": [{"filter": "datum.g == 'GA3ox1'"}], "mark": {"type": "point", "filled": true, "opacity": 1}, "encoding": {"color": {"field": "s", "type": "nominal", "legend": null}, "shape": {"field": "s", "type": "nominal", "scale": {"domain": ["22°C","32°C"], "range": ["diamond","square"]}, "legend": null}, "size": {"field": "s", "type": "ordinal", "scale": {"domain": ["22°C","32°C"], "range": [25, 45]}, "legend": null}}},
                    {"data": {"name": "ts"}, "transform": [{"filter": "datum.g == 'GA3ox1' && isValid(datum.lo)"}], "mark": {"type": "errorbar", "ticks": {"size": 5, "thickness": 1, "color": "#333"}, "rule": {"color": "#333", "strokeWidth": 1}}, "encoding": {"y": {"field": "lo", "type": "quantitative", "title": "mRNA level"}, "y2": {"field": "hi"}}}
                  ]
                },
                {
                  "width": 207, "height": 113,
                  "title": {"text": "GA3ox2"},
                  "encoding": {
                    "x": {"field": "t", "type": "ordinal", "title": null, "scale": {"type": "band", "domain": ["Dry","Dark","0.5d","1d","2d","3d","5d","7d","10d"], "paddingInner": 0, "paddingOuter": 0}},
                    "y": {"field": "v", "type": "quantitative", "title": "mRNA level", "scale": {"domain": [0, 5], "nice": false}, "axis": {"values": [0,1,2,3,4,5], "titlePadding": 4}}
                  },
                  "layer": [
                    {"data": {"name": "boxes"}, "transform": [{"filter": "datum.g == 'GA3ox2'"}], "mark": {"type": "rect", "fillOpacity": 0, "stroke": "#a6a6a6", "strokeWidth": 1.5, "strokeDash": [5, 3]}, "encoding": {"y": {"field": "lo", "type": "quantitative", "title": "mRNA level"}, "y2": {"field": "hi"}}},
                    {"data": {"name": "notes"}, "transform": [{"filter": "datum.g == 'GA3ox2' && datum.label == 'Pre-inc'"}], "mark": {"type": "text", "font": "Lato", "fontStyle": "italic", "fontWeight": "bold", "fontSize": 9.5, "color": "#111", "angle": 270}, "encoding": {"text": {"field": "label"}}},
                    {"data": {"name": "notes"}, "transform": [{"filter": "datum.g == 'GA3ox2' && datum.label != 'Pre-inc'"}], "mark": {"type": "text", "font": "Lato", "fontStyle": "italic", "fontWeight": "bold", "fontSize": 9.5, "color": "#111", "dx": -4}, "encoding": {"text": {"field": "label"}}},
                    {"data": {"name": "ts"}, "transform": [{"filter": "datum.g == 'GA3ox2'"}], "mark": {"type": "line", "strokeWidth": 2}, "encoding": {"order": {"value": null}, "color": {"field": "s", "type": "nominal", "scale": {"domain": ["22°C","32°C"], "range": ["#595959","#a6a6a6"]}, "legend": null}}},
                    {"data": {"name": "ts"}, "transform": [{"filter": "datum.g == 'GA3ox2'"}], "mark": {"type": "point", "filled": true, "opacity": 1}, "encoding": {"color": {"field": "s", "type": "nominal", "legend": null}, "shape": {"field": "s", "type": "nominal", "scale": {"domain": ["22°C","32°C"], "range": ["diamond","square"]}, "legend": null}, "size": {"field": "s", "type": "ordinal", "scale": {"domain": ["22°C","32°C"], "range": [25, 45]}, "legend": null}}},
                    {"data": {"name": "ts"}, "transform": [{"filter": "datum.g == 'GA3ox2' && isValid(datum.lo)"}], "mark": {"type": "errorbar", "ticks": {"size": 5, "thickness": 1, "color": "#333"}, "rule": {"color": "#333", "strokeWidth": 1}}, "encoding": {"y": {"field": "lo", "type": "quantitative", "title": "mRNA level"}, "y2": {"field": "hi"}}}
                  ]
                }
              ]
            },
            {
              "title": {"text": "B", "fontSize": 15, "fontStyle": "normal", "fontWeight": "bold", "offset": 1, "dx": -13},
              "spacing": 0,
              "resolve": {"scale": {"color": "independent", "shape": "independent", "size": "independent"}},
              "hconcat": [
                {"width": 1, "height": 10, "data": {"values": []}, "mark": "point"},
                {
                  "width": 210, "height": 109,
                  "data": {"name": "aba"},
                  "encoding": {
                    "x": {"field": "c", "type": "ordinal", "title": "ABA concentration (µM)", "scale": {"type": "band", "domain": ["0","1","5","10","50"], "paddingInner": 0, "paddingOuter": 0}, "axis": {"titleFontSize": 8, "titlePadding": 3}},
                    "y": {"field": "v", "type": "quantitative", "title": "mRNA level", "scale": {"domain": [0, 3], "nice": false}, "axis": {"values": [0,1,2,3], "titlePadding": 0, "labelPadding": 7}}
                  },
                  "layer": [
                    {"mark": {"type": "line", "strokeWidth": 2}, "encoding": {"order": {"value": null}, "color": {"field": "s", "type": "nominal", "scale": {"domain": ["RD29a","PHYD"], "range": ["#595959","#a6a6a6"]}, "legend": {"orient": "none", "direction": "horizontal", "legendX": 72, "legendY": 5, "title": null, "labelFont": "Liberation Sans", "labelFontSize": 8, "labelColor": "#222", "symbolSize": 180, "symbolStrokeWidth": 2, "columnPadding": 4, "labelOffset": 2, "encode": {"symbols": {"update": {"shape": {"signal": "datum.value == 'RD29a' ? 'M-1,0L1,0M0,-0.3L0.3,0L0,0.3L-0.3,0Z' : 'M-1,0L1,0M-0.35,-0.35L0.35,-0.35L0.35,0.35L-0.35,0.35Z'"}, "fill": {"signal": "datum.value == 'RD29a' ? '#595959' : '#a6a6a6'"}, "stroke": {"signal": "datum.value == 'RD29a' ? '#595959' : '#a6a6a6'"}, "strokeWidth": {"value": 2}, "strokeOpacity": {"value": 1}, "opacity": {"value": 1}}}}}}}},
                    {"mark": {"type": "point", "filled": true, "opacity": 1}, "encoding": {"color": {"field": "s", "type": "nominal", "legend": null}, "shape": {"field": "s", "type": "nominal", "scale": {"domain": ["RD29a","PHYD"], "range": ["diamond","square"]}, "legend": null}, "size": {"field": "s", "type": "ordinal", "scale": {"domain": ["RD29a","PHYD"], "range": [25, 45]}, "legend": null}}},
                    {"transform": [{"filter": "isValid(datum.lo)"}], "mark": {"type": "errorbar", "ticks": {"size": 5, "thickness": 1, "color": "#333"}, "rule": {"color": "#333", "strokeWidth": 1}}, "encoding": {"y": {"field": "lo", "type": "quantitative", "title": "mRNA level"}, "y2": {"field": "hi"}}}
                  ]
                }
              ]
            }
          ]
        }
      ]
    }
  ]
}
